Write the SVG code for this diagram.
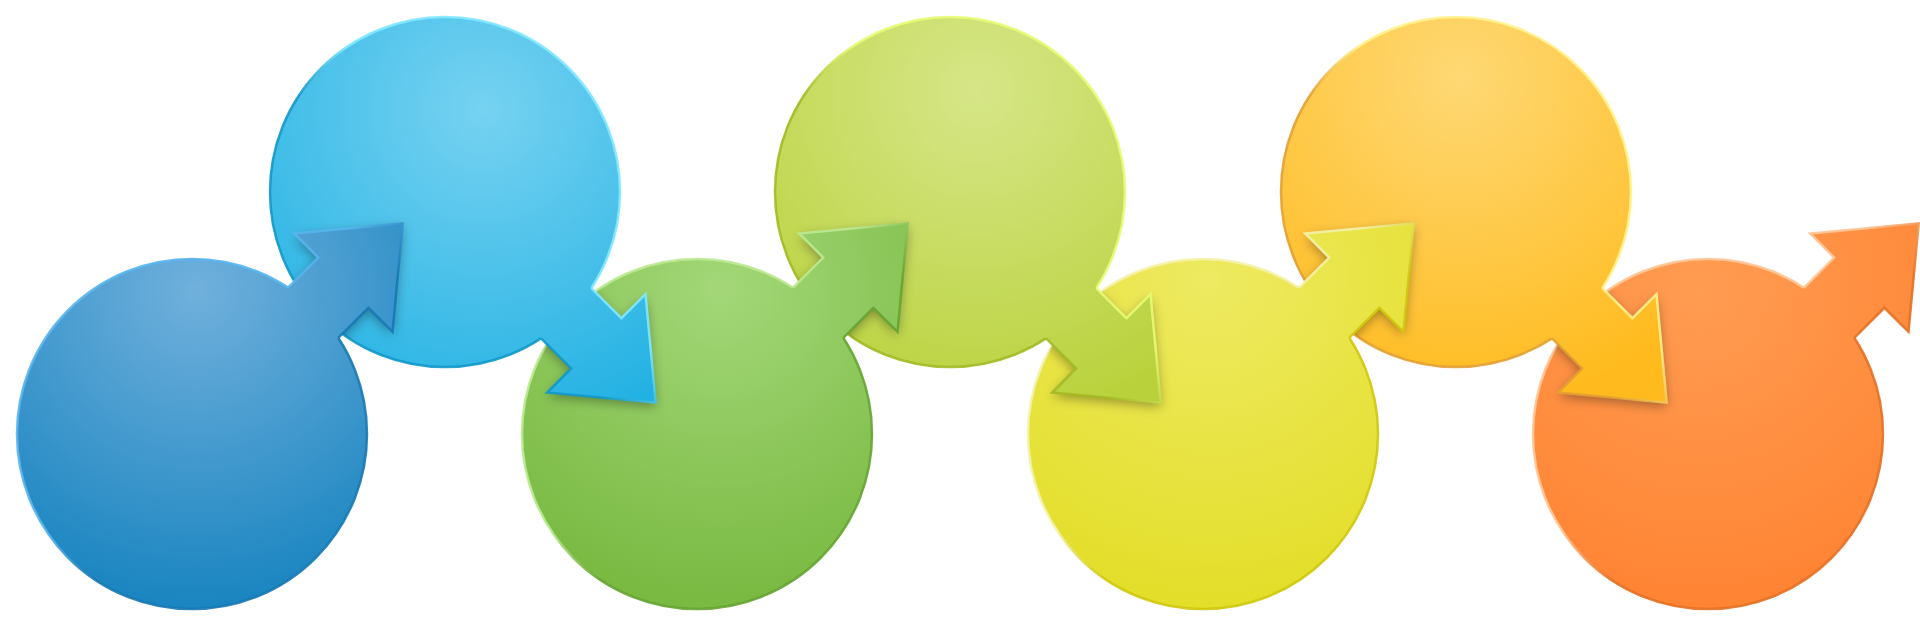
<svg xmlns="http://www.w3.org/2000/svg" xmlns:xlink="http://www.w3.org/1999/xlink" width="1920" height="627" viewBox="0 0 1920 627">
<style>
.rim{stroke-width:2.5;stroke-opacity:0.9}
.shadow{fill:#000;fill-opacity:0.35;filter:url(#blur)}
</style>
<defs>
<filter id="blur" x="-30%" y="-30%" width="160%" height="160%"><feGaussianBlur stdDeviation="6"/></filter>
<radialGradient id="f1" gradientUnits="userSpaceOnUse" cx="197" cy="290" r="330"><stop offset="0" stop-color="#70b0dc"/><stop offset="1" stop-color="#1683bf"/></radialGradient>
<radialGradient id="f2" gradientUnits="userSpaceOnUse" cx="483" cy="110" r="330"><stop offset="0" stop-color="#76d2f1"/><stop offset="1" stop-color="#22b1e3"/></radialGradient>
<radialGradient id="f3" gradientUnits="userSpaceOnUse" cx="720" cy="290" r="330"><stop offset="0" stop-color="#a3d778"/><stop offset="1" stop-color="#77b83f"/></radialGradient>
<radialGradient id="f4" gradientUnits="userSpaceOnUse" cx="977" cy="90" r="330"><stop offset="0" stop-color="#d6e688"/><stop offset="1" stop-color="#b9d23c"/></radialGradient>
<radialGradient id="f5" gradientUnits="userSpaceOnUse" cx="1210" cy="280" r="330"><stop offset="0" stop-color="#eeea62"/><stop offset="1" stop-color="#e3de28"/></radialGradient>
<radialGradient id="f6" gradientUnits="userSpaceOnUse" cx="1460" cy="77" r="330"><stop offset="0" stop-color="#fed874"/><stop offset="1" stop-color="#ffbb1e"/></radialGradient>
<radialGradient id="f7" gradientUnits="userSpaceOnUse" cx="1700" cy="290" r="330"><stop offset="0" stop-color="#ff9c52"/><stop offset="1" stop-color="#ff8332"/></radialGradient>
<linearGradient id="r1" gradientUnits="userSpaceOnUse" x1="68.3" y1="310.3" x2="315.7" y2="557.7"><stop offset="0" stop-color="#58b4ee"/><stop offset="0.4" stop-color="#58b4ee"/><stop offset="0.6" stop-color="#1778b4"/><stop offset="1" stop-color="#1778b4"/></linearGradient>
<linearGradient id="r2" gradientUnits="userSpaceOnUse" x1="568.7" y1="68.3" x2="321.3" y2="315.7"><stop offset="0" stop-color="#80e8ff"/><stop offset="0.4" stop-color="#80e8ff"/><stop offset="0.6" stop-color="#1098ca"/><stop offset="1" stop-color="#1098ca"/></linearGradient>
<linearGradient id="r3" gradientUnits="userSpaceOnUse" x1="573.3" y1="310.3" x2="820.7" y2="557.7"><stop offset="0" stop-color="#bce992"/><stop offset="0.4" stop-color="#bce992"/><stop offset="0.6" stop-color="#66a432"/><stop offset="1" stop-color="#66a432"/></linearGradient>
<linearGradient id="r4" gradientUnits="userSpaceOnUse" x1="1073.7" y1="68.3" x2="826.3" y2="315.7"><stop offset="0" stop-color="#e8fb72"/><stop offset="0.4" stop-color="#e8fb72"/><stop offset="0.6" stop-color="#a2ba24"/><stop offset="1" stop-color="#a2ba24"/></linearGradient>
<linearGradient id="r5" gradientUnits="userSpaceOnUse" x1="1079.3" y1="310.3" x2="1326.7" y2="557.7"><stop offset="0" stop-color="#f4f2aa"/><stop offset="0.4" stop-color="#f4f2aa"/><stop offset="0.6" stop-color="#cfc80c"/><stop offset="1" stop-color="#cfc80c"/></linearGradient>
<linearGradient id="r6" gradientUnits="userSpaceOnUse" x1="1579.7" y1="68.3" x2="1332.3" y2="315.7"><stop offset="0" stop-color="#fff38c"/><stop offset="0.4" stop-color="#fff38c"/><stop offset="0.6" stop-color="#e4a032"/><stop offset="1" stop-color="#e4a032"/></linearGradient>
<linearGradient id="r7" gradientUnits="userSpaceOnUse" x1="1584.3" y1="310.3" x2="1831.7" y2="557.7"><stop offset="0" stop-color="#ffc696"/><stop offset="0.4" stop-color="#ffc696"/><stop offset="0.6" stop-color="#e47024"/><stop offset="1" stop-color="#e47024"/></linearGradient>
<clipPath id="c2"><circle cx="445" cy="192" r="175"/></clipPath>
<clipPath id="c3"><circle cx="697" cy="434" r="175"/></clipPath>
<clipPath id="c4"><circle cx="950" cy="192" r="175"/></clipPath>
<clipPath id="c5"><circle cx="1203" cy="434" r="175"/></clipPath>
<clipPath id="c6"><circle cx="1456" cy="192" r="175"/></clipPath>
<clipPath id="c7"><circle cx="1708" cy="434" r="175"/></clipPath>
<polygon id="a1" points="273,302.8 318.2,257.6 294.2,233.5 402.7,223.3 392.5,331.8 368.4,307.8 323.2,353"/>
<polygon id="a2" points="576.2,273 621.4,318.2 645.5,294.2 655.7,402.7 547.2,392.5 571.2,368.4 526,323.2"/>
<polygon id="a3" points="778,302.8 823.2,257.6 799.2,233.5 907.7,223.3 897.5,331.8 873.4,307.8 828.2,353"/>
<polygon id="a4" points="1081.2,273 1126.4,318.2 1150.5,294.2 1160.7,402.7 1052.2,392.5 1076.2,368.4 1031,323.2"/>
<polygon id="a5" points="1284,302.8 1329.2,257.6 1305.2,233.5 1413.7,223.3 1403.5,331.8 1379.4,307.8 1334.2,353"/>
<polygon id="a6" points="1587.2,273 1632.4,318.2 1656.5,294.2 1666.7,402.7 1558.2,392.5 1582.2,368.4 1537,323.2"/>
<polygon id="a7" points="1789,302.8 1834.2,257.6 1810.2,233.5 1918.7,223.3 1908.5,331.8 1884.4,307.8 1839.2,353"/>
</defs>

<rect width="1920" height="627" fill="#ffffff"/>

<g id="nodes">
  <g id="node7"><circle cx="1708" cy="434" r="175" fill="url(#f7)" stroke="url(#r7)" class="rim"/></g>
  <g id="node6"><circle cx="1456" cy="192" r="175" fill="url(#f6)" stroke="url(#r6)" class="rim"/></g>
  <g id="node5"><circle cx="1203" cy="434" r="175" fill="url(#f5)" stroke="url(#r5)" class="rim"/></g>
  <g id="node4"><circle cx="950" cy="192" r="175" fill="url(#f4)" stroke="url(#r4)" class="rim"/></g>
  <g id="node3"><circle cx="697" cy="434" r="175" fill="url(#f3)" stroke="url(#r3)" class="rim"/></g>
  <g id="node2"><circle cx="445" cy="192" r="175" fill="url(#f2)" stroke="url(#r2)" class="rim"/></g>
  <g id="node1"><circle cx="192" cy="434" r="175" fill="url(#f1)" stroke="url(#r1)" class="rim"/></g>
</g>

<g id="connectors">
  <g id="arrow7">
    <use xlink:href="#a7" href="#a7" fill="url(#f7)"/>
    <path d="M1804.1,287.7 L1834.2,257.6 L1810.2,233.5 L1918.7,223.3 L1908.5,331.8 L1884.4,307.8 L1854.3,337.9" fill="none" stroke="url(#r7)" class="rim"/>
  </g>
  <g id="arrow6">
    <g clip-path="url(#c7)"><use xlink:href="#a6" href="#a6" class="shadow" transform="translate(0,4)"/></g>
    <use xlink:href="#a6" href="#a6" fill="url(#f6)"/>
    <path d="M1602.3,288.1 L1632.4,318.2 L1656.5,294.2 L1666.7,402.7 L1558.2,392.5 L1582.2,368.4 L1552.1,338.3" fill="none" stroke="url(#r6)" class="rim"/>
  </g>
  <g id="arrow5">
    <g clip-path="url(#c6)"><use xlink:href="#a5" href="#a5" class="shadow" transform="translate(0,4)"/></g>
    <use xlink:href="#a5" href="#a5" fill="url(#f5)"/>
    <path d="M1299.1,287.7 L1329.2,257.6 L1305.2,233.5 L1413.7,223.3 L1403.5,331.8 L1379.4,307.8 L1349.3,337.9" fill="none" stroke="url(#r5)" class="rim"/>
  </g>
  <g id="arrow4">
    <g clip-path="url(#c5)"><use xlink:href="#a4" href="#a4" class="shadow" transform="translate(0,4)"/></g>
    <use xlink:href="#a4" href="#a4" fill="url(#f4)"/>
    <path d="M1096.3,288.1 L1126.4,318.2 L1150.5,294.2 L1160.7,402.7 L1052.2,392.5 L1076.2,368.4 L1046.1,338.3" fill="none" stroke="url(#r4)" class="rim"/>
  </g>
  <g id="arrow3">
    <g clip-path="url(#c4)"><use xlink:href="#a3" href="#a3" class="shadow" transform="translate(0,4)"/></g>
    <use xlink:href="#a3" href="#a3" fill="url(#f3)"/>
    <path d="M793.1,287.7 L823.2,257.6 L799.2,233.5 L907.7,223.3 L897.5,331.8 L873.4,307.8 L843.3,337.9" fill="none" stroke="url(#r3)" class="rim"/>
  </g>
  <g id="arrow2">
    <g clip-path="url(#c3)"><use xlink:href="#a2" href="#a2" class="shadow" transform="translate(0,4)"/></g>
    <use xlink:href="#a2" href="#a2" fill="url(#f2)"/>
    <path d="M591.3,288.1 L621.4,318.2 L645.5,294.2 L655.7,402.7 L547.2,392.5 L571.2,368.4 L541.1,338.3" fill="none" stroke="url(#r2)" class="rim"/>
  </g>
  <g id="arrow1">
    <g clip-path="url(#c2)"><use xlink:href="#a1" href="#a1" class="shadow" transform="translate(0,4)"/></g>
    <use xlink:href="#a1" href="#a1" fill="url(#f1)"/>
    <path d="M288.1,287.7 L318.2,257.6 L294.2,233.5 L402.7,223.3 L392.5,331.8 L368.4,307.8 L338.3,337.9" fill="none" stroke="url(#r1)" class="rim"/>
  </g>
</g>
</svg>
